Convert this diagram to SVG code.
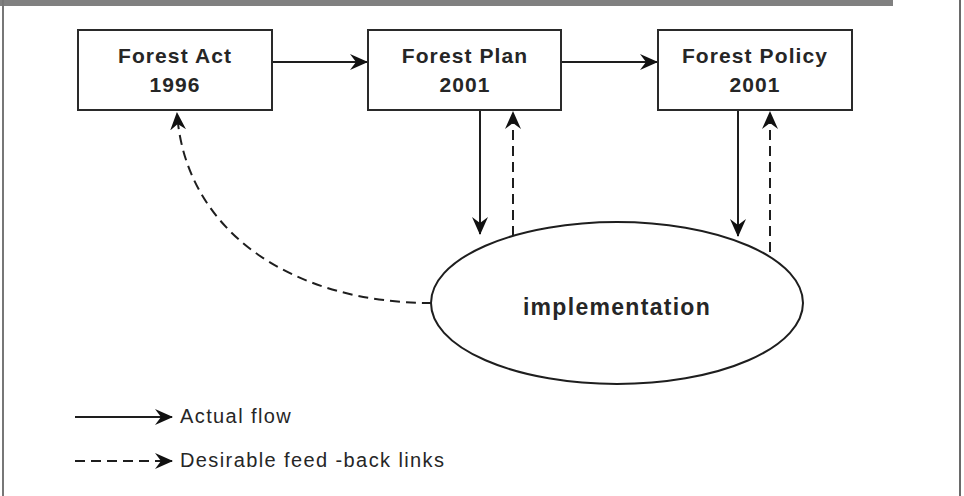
<svg xmlns="http://www.w3.org/2000/svg" width="964" height="496" viewBox="0 0 964 496">
<style>
.box{fill:#fff;stroke:#2a2a2a;stroke-width:2}
.lbl{font-family:"Liberation Sans",Arial,sans-serif;font-weight:bold;font-size:21px;letter-spacing:1.1px;fill:#262626;text-anchor:middle}
.leg{font-family:"Liberation Sans",Arial,sans-serif;font-size:20px;letter-spacing:1.4px;fill:#262626}
.ln{fill:none;stroke:#1e1e1e;stroke-width:2}
.dash{stroke-dasharray:10,6}
</style>
<defs>
<marker id="ah" markerWidth="18" markerHeight="16" refX="17" refY="8" orient="auto" markerUnits="userSpaceOnUse">
<path d="M0,0 L18,8 L0,16 L6,8 z" fill="#111"/>
</marker>
</defs>
<rect x="0" y="0" width="893" height="6" fill="#808080"/>
<line x1="3" y1="0" x2="3" y2="496" stroke="#777" stroke-width="2"/>
<line x1="960" y1="0" x2="960" y2="496" stroke="#6a6a6a" stroke-width="2"/>
<g id="connectors">
<line class="ln" x1="272" y1="62" x2="367" y2="62" marker-end="url(#ah)"/>
<line class="ln" x1="561" y1="62" x2="657" y2="62" marker-end="url(#ah)"/>
<line class="ln" x1="480" y1="110" x2="480" y2="234" marker-end="url(#ah)"/>
<line class="ln dash" x1="513" y1="236" x2="513" y2="112" marker-end="url(#ah)"/>
<line class="ln" x1="738" y1="110" x2="738" y2="236" marker-end="url(#ah)"/>
<line class="ln dash" x1="770" y1="252" x2="770" y2="112" marker-end="url(#ah)"/>
<path class="ln dash" d="M432,303 C290,303 185,230 177,113" marker-end="url(#ah)"/>
</g>
<g id="forest-act">
<rect class="box" x="78" y="30" width="194" height="80"/>
<text class="lbl" x="175" y="63">Forest Act</text>
<text class="lbl" x="175" y="92">1996</text>
</g>
<g id="forest-plan">
<rect class="box" x="368" y="30" width="193" height="80"/>
<text class="lbl" x="465" y="63">Forest Plan</text>
<text class="lbl" x="465" y="92">2001</text>
</g>
<g id="forest-policy">
<rect class="box" x="658" y="30" width="194" height="80"/>
<text class="lbl" x="755" y="63">Forest Policy</text>
<text class="lbl" x="755" y="92">2001</text>
</g>
<g id="implementation">
<ellipse cx="617" cy="303" rx="186" ry="81" fill="#fff" stroke="#1e1e1e" stroke-width="2"/>
<text class="lbl" x="617" y="315" style="font-size:23px;letter-spacing:1.3px">implementation</text>
</g>
<g id="legend">
<line class="ln" x1="75" y1="417" x2="172" y2="417" marker-end="url(#ah)"/>
<text class="leg" x="180" y="423">Actual flow</text>
<line class="ln dash" x1="75" y1="461" x2="172" y2="461" marker-end="url(#ah)"/>
<text class="leg" x="180" y="467">Desirable feed -back links</text>
</g>
</svg>
